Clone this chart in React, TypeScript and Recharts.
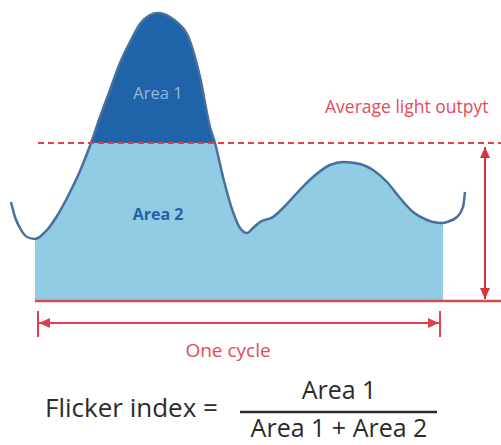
import React from 'react';
import { ComposedChart, Area, Line, XAxis, YAxis, ReferenceLine } from 'recharts';

// time (px-like units) and light level readings along the waveform
const times = [11, 15, 20, 27, 35, 47, 57, 67, 80, 91, 100, 110, 120, 130, 140, 150, 158, 170, 180, 187, 200, 210, 215, 223, 233, 240, 247, 253, 260, 273, 283, 297, 313, 330, 343, 360, 373, 387, 400, 413, 427, 433, 443, 447, 457, 463, 465];
const lightLevel = [99, 84, 73, 64, 62, 71, 85, 103, 130, 158, 184, 211, 238, 259, 277, 286, 288, 284, 276, 267, 224, 174, 158, 124, 89, 73, 68, 73, 79, 84, 93, 108, 124, 136, 139, 137, 131, 119, 103, 89, 81, 79, 78, 79, 84, 94, 109];

const AVERAGE = 158;
const CYCLE_START = 35;
const CYCLE_END = 443;
const AREA1_START = 91;
const AREA1_END = 215;

const RED = '#e0404e';
const LIGHT_BLUE = '#92cbe4';
const DARK_BLUE = '#1f63a8';

const data = times.map((t, i) => ({
  t,
  level: lightLevel[i],
  fill: t >= CYCLE_START && t <= CYCLE_END ? lightLevel[i] : null,
  peak: t >= AREA1_START && t <= AREA1_END ? lightLevel[i] : null,
}));

function Arrow(props: any) {
  const { x1, y1, x2, y2, stroke, strokeWidth } = props;
  const len = Math.hypot(x2 - x1, y2 - y1) || 1;
  const ux = (x2 - x1) / len;
  const uy = (y2 - y1) / len;
  const head = (x: number, y: number, dx: number, dy: number) => {
    const L = 11, W = 5;
    const bx = x - dx * L, by = y - dy * L;
    return `${x},${y} ${bx - dy * W},${by + dx * W} ${bx + dy * W},${by - dx * W}`;
  };
  return (
    <g>
      <line x1={x1} y1={y1} x2={x2} y2={y2} stroke={stroke} strokeWidth={strokeWidth} />
      <polygon points={head(x1, y1, -ux, -uy)} fill={stroke} />
      <polygon points={head(x2, y2, ux, uy)} fill={stroke} />
    </g>
  );
}

export default function App() {
  return (
    <div style={{ position: 'absolute', left: 0, top: 0, width: 501, height: 445, background: '#fff', overflow: 'hidden' }}>
      <ComposedChart width={501} height={445} data={data} margin={{ top: 0, right: 0, bottom: 0, left: 0 }}>
        <XAxis type="number" dataKey="t" domain={[0, 501]} hide />
        <YAxis type="number" domain={[-144, 301]} hide />
        <Area dataKey="fill" type="monotone" baseValue={0} fill={LIGHT_BLUE} fillOpacity={1} stroke="none" isAnimationActive={false} />
        <Area dataKey="peak" type="monotone" baseValue={AVERAGE} fill={DARK_BLUE} fillOpacity={1} stroke="none" isAnimationActive={false} />
        <Line dataKey="level" type="monotone" stroke="#47709c" strokeWidth={2.5} dot={false} activeDot={false} isAnimationActive={false} />
        <ReferenceLine segment={[{ x: 38, y: AVERAGE }, { x: 501, y: AVERAGE }]} stroke={RED} strokeWidth={2} strokeDasharray="6 4" ifOverflow="visible" />
        <ReferenceLine segment={[{ x: 35, y: 0 }, { x: 501, y: 0 }]} stroke="#d9474f" strokeWidth={2.5} ifOverflow="visible" />
        <ReferenceLine segment={[{ x: 485, y: AVERAGE - 4 }, { x: 485, y: 2 }]} stroke="#d8323e" strokeWidth={2} ifOverflow="visible" shape={Arrow} />
        <ReferenceLine segment={[{ x: 39, y: -22 }, { x: 439, y: -22 }]} stroke={RED} strokeWidth={2} ifOverflow="visible" shape={Arrow} />
        <ReferenceLine segment={[{ x: 38, y: -10 }, { x: 38, y: -36 }]} stroke={RED} strokeWidth={2} ifOverflow="visible" />
        <ReferenceLine segment={[{ x: 440, y: -10 }, { x: 440, y: -36 }]} stroke={RED} strokeWidth={2} ifOverflow="visible" />
      </ComposedChart>
      <svg width={501} height={445} style={{ position: 'absolute', left: 0, top: 0, pointerEvents: 'none' }} fontFamily="'Open Sans', sans-serif">
        <text x={158} y={99} textAnchor="middle" fontSize={16.5} fill="#8fb8df">Area 1</text>
        <text x={158} y={220} textAnchor="middle" fontSize={16} fontWeight="bold" fill="#2263a6">Area 2</text>
        <text x={325} y={113} fontSize={17.5} fill="#e5485a">Average light outpyt</text>
        <text x={228} y={357} textAnchor="middle" fontSize={19} fill="#e5485a">One cycle</text>
        <text x={45} y={417} fontSize={26} fill="#2b2b2b">Flicker index =</text>
        <text x={339} y={399} textAnchor="middle" fontSize={25} fill="#2b2b2b">Area 1</text>
        <line x1={240} y1={412} x2={437} y2={412} stroke="#2b2b2b" strokeWidth={2.5} />
        <text x={339} y={437} textAnchor="middle" fontSize={25} fill="#2b2b2b">Area 1 + Area 2</text>
      </svg>
    </div>
  );
}
